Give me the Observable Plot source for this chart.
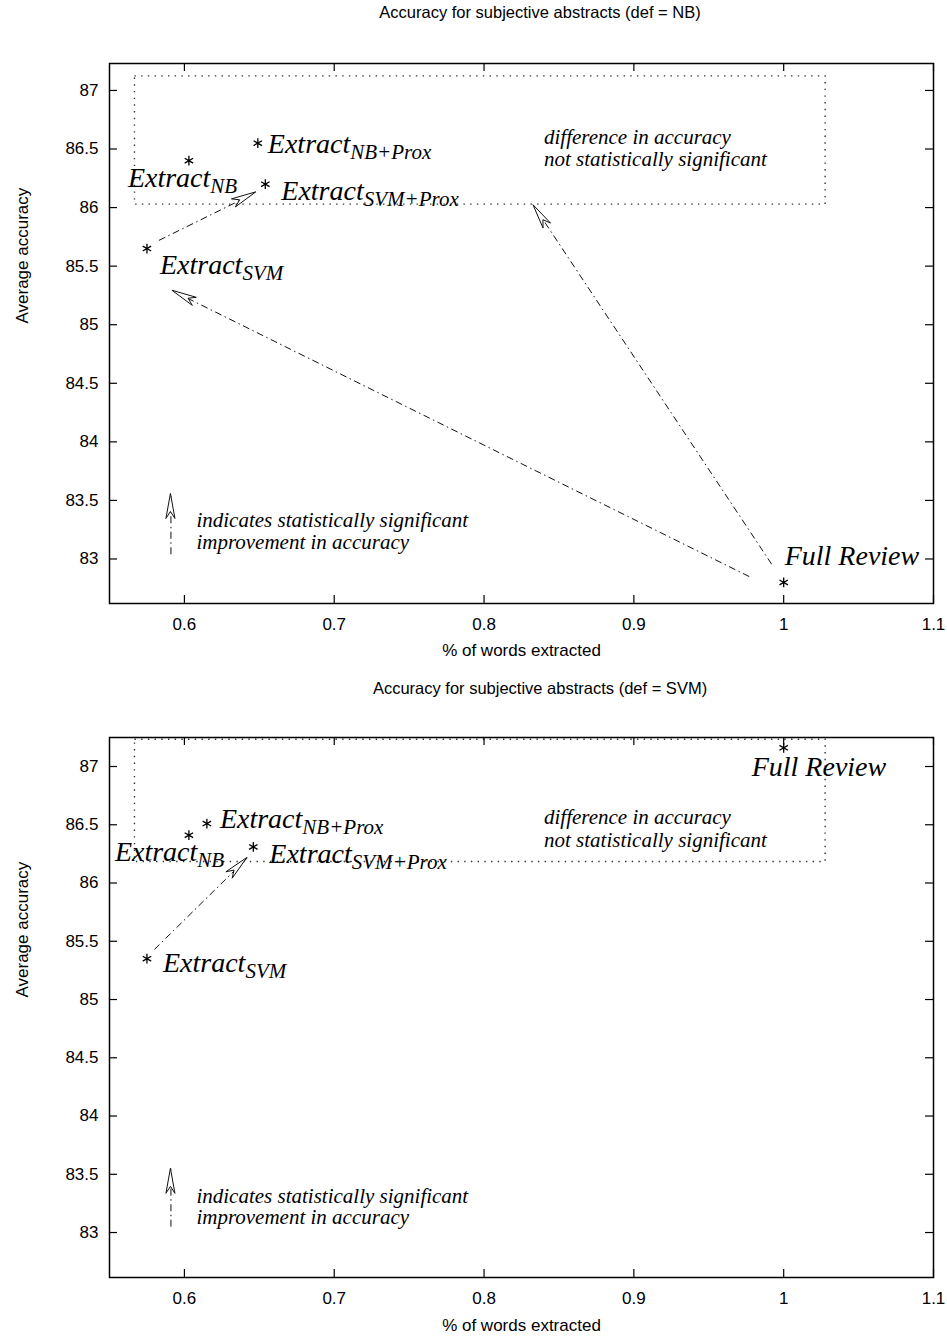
<!DOCTYPE html>
<html><head><meta charset="utf-8">
<script src="https://cdn.jsdelivr.net/npm/d3@7"></script>
<script src="https://cdn.jsdelivr.net/npm/@observablehq/plot@0.6"></script>
<style>
body{margin:0;background:#fff;width:947px;}
.panel{position:relative;width:947px;padding-top:24px;}
.title{position:absolute;left:540px;top:12px;transform:translate(-50%,-50%);font:16.5px "Liberation Sans",Arial,sans-serif;white-space:nowrap;color:#000;}
svg{display:block;}
</style></head><body>
<div id="p1" class="panel"><div class="title">Accuracy for subjective abstracts (def = NB)</div></div>
<div id="p2" class="panel"><div class="title">Accuracy for subjective abstracts (def = SVM)</div></div>
<script>
// ---- data ----
const methods = ["Extract_NB", "Extract_NB+Prox", "Extract_SVM+Prox", "Extract_SVM", "Full Review"];
const wordsNB = [0.603, 0.649, 0.654, 0.575, 1.0];
const accNB   = [86.40, 86.55, 86.20, 85.65, 82.80];
const wordsSVM = [0.603, 0.615, 0.646, 0.575, 1.0];
const accSVM   = [86.41, 86.51, 86.31, 85.35, 87.16];
const xTicks = [0.6, 0.7, 0.8, 0.9, 1.0, 1.1];
const yTicks = [83, 83.5, 84, 84.5, 85, 85.5, 86, 86.5, 87];
// significant-improvement arrows (from -> to)
const arrowsNB = [
  {x1: 0.583, y1: 85.72, x2: 0.648, y2: 86.13},
  {x1: 0.977, y1: 82.85, x2: 0.592, y2: 85.29},
  {x1: 0.992, y1: 82.955, x2: 0.833, y2: 86.02}
];
const arrowsSVM = [
  {x1: 0.580, y1: 85.43, x2: 0.642, y2: 86.215}
];
// "not significant" regions
const boxNB  = [{x1: 0.567, x2: 1.028, y1: 86.025, y2: 87.12}];
const boxSVM = [{x1: 0.567, x2: 1.028, y1: 86.18, y2: 87.23}];
// legend arrow + texts
const legendArrowNB  = [{x1: 0.591, y1: 83.04, x2: 0.591, y2: 83.555}];
const legendArrowSVM = [{x1: 0.591, y1: 83.05, x2: 0.591, y2: 83.547}];
const noteText = "difference in accuracy\nnot statistically significant";
const legendText = "indicates statistically significant\nimprovement in accuracy";
const noteNB  = [{x: 0.840, y: 86.351}];
const noteSVM = [{x: 0.840, y: 86.313}];
const legendNB  = [{x: 0.608, y: 83.088}];
const legendSVM = [{x: 0.608, y: 83.069}];

// ---- layout ----
const panels = [
  {el: "#p1", words: wordsNB, acc: accNB, arrows: arrowsNB, box: boxNB, legArrow: legendArrowNB, note: noteNB, legend: legendNB,
   yDomain: [82.62, 87.23], height: 652, marginTop: 39, marginBottom: 73, xLabelDy: 47,
   offsets: [[-61, 26], [10, 10], [16, 16], [13, 25], [1, -17]]},
  {el: "#p2", words: wordsSVM, acc: accSVM, arrows: arrowsSVM, box: boxSVM, legArrow: legendArrowSVM, note: noteSVM, legend: legendSVM,
   yDomain: [82.614, 87.249], height: 636, marginTop: 37, marginBottom: 59, xLabelDy: 48,
   offsets: [[-74, 26], [13, 4], [16, 16], [16, 13], [-32, 28]]}
];
const W = 947, ML = 109, MR = 14, TICK = 8;
const serif = "'Liberation Serif', 'Times New Roman', serif";
const sans = "'Liberation Sans', Arial, Helvetica, sans-serif";

function arrowHeads(arrows) {
  return (index, scales) => {
    const g = d3.create("svg:g");
    for (const a of arrows) {
      const x1 = scales.x(a.x1), y1 = scales.y(a.y1), x2 = scales.x(a.x2), y2 = scales.y(a.y2);
      const dx = x2 - x1, dy = y2 - y1, len = Math.hypot(dx, dy);
      const ux = dx / len, uy = dy / len, nx = -uy, ny = ux;
      const L = 25, Wd = 4.5, N = 0.72 * L;
      const pts = [
        [x2, y2],
        [x2 - L * ux + Wd * nx, y2 - L * uy + Wd * ny],
        [x2 - N * ux, y2 - N * uy],
        [x2 - L * ux - Wd * nx, y2 - L * uy - Wd * ny]
      ];
      g.append("path").attr("d", "M" + pts.map(p => p.join(",")).join("L") + "Z")
        .attr("fill", "white").attr("stroke", "#111").attr("stroke-width", 1).attr("stroke-linejoin", "miter");
    }
    return g.node();
  };
}

for (const p of panels) {
  const plotH = p.height - p.marginTop - p.marginBottom;
  const plotW = W - ML - MR;
  const idx = d3.range(methods.length);
  const allArrows = p.arrows.concat(p.legArrow);
  const labelMarks = idx.map(i => Plot.text([i], {
    x: j => p.words[j], y: j => p.acc[j], text: j => methods[j],
    dx: p.offsets[i][0], dy: p.offsets[i][1],
    textAnchor: "start", lineAnchor: "bottom",
    fontSize: 28, fontFamily: serif, fontStyle: "italic", fill: "black"
  }));
  const svg = Plot.plot({
    width: W, height: p.height,
    marginLeft: ML, marginRight: MR, marginTop: p.marginTop, marginBottom: p.marginBottom,
    x: {domain: [0.55, 1.1]},
    y: {domain: p.yDomain},
    style: {fontSize: "17px", fontFamily: sans, color: "black", background: "white", overflow: "visible"},
    marks: [
      Plot.rect(p.box, {x1: "x1", x2: "x2", y1: "y1", y2: "y2", fill: "none", stroke: "#333", strokeWidth: 1.4, strokeDasharray: "1.4,5.3"}),
      // inward ticks on all four sides
      Plot.tickX(xTicks, {x: d => d, insetTop: plotH - TICK, stroke: "black", strokeWidth: 1.2}),
      Plot.tickX(xTicks, {x: d => d, insetBottom: plotH - TICK, stroke: "black", strokeWidth: 1.2}),
      Plot.tickY(yTicks, {y: d => d, insetRight: plotW - TICK, stroke: "black", strokeWidth: 1.2}),
      Plot.tickY(yTicks, {y: d => d, insetLeft: plotW - TICK, stroke: "black", strokeWidth: 1.2}),
      Plot.axisX(xTicks, {tickSize: 0, tickPadding: 14, tickFormat: d3.format("~g"), label: null}),
      Plot.axisY(yTicks, {tickSize: 0, tickPadding: 11, tickFormat: d3.format("~g"), label: null}),
      Plot.text(["% of words extracted"], {text: d => d, frameAnchor: "bottom", dy: p.xLabelDy, lineAnchor: "middle", fontSize: 17}),
      Plot.text(["Average accuracy"], {text: d => d, frameAnchor: "left", rotate: -90, dx: -87, dy: -10, lineAnchor: "middle", fontSize: 17}),
      // arrows
      Plot.link(allArrows, {x1: "x1", y1: "y1", x2: "x2", y2: "y2", stroke: "#111", strokeWidth: 1, strokeDasharray: "7,3.5,1.5,3.5"}),
      arrowHeads(allArrows),
      // points
      Plot.dot(idx, {x: i => p.words[i], y: i => p.acc[i], symbol: "asterisk", r: 4.6, stroke: "black", strokeWidth: 1.3}),
      ...labelMarks,
      Plot.text(p.note, {x: "x", y: "y", text: () => noteText, textAnchor: "start", lineAnchor: "bottom", lineHeight: 1.07, fontSize: 21, fontFamily: serif, fontStyle: "italic", fill: "black"}),
      Plot.text(p.legend, {x: "x", y: "y", text: () => legendText, textAnchor: "start", lineAnchor: "bottom", lineHeight: 1.03, fontSize: 21, fontFamily: serif, fontStyle: "italic", fill: "black"}),
      Plot.frame({stroke: "black", strokeWidth: 1.5})
    ]
  });
  // subscripts (e.g. Extract_NB -> Extract with NB subscript)
  d3.select(svg).selectAll("text").each(function() {
    if (this.querySelector("tspan")) return;
    const t = this.textContent;
    if (!t.includes("_")) return;
    const [main, sub] = t.split("_");
    this.textContent = "";
    d3.select(this).append("tspan").text(main);
    d3.select(this).append("tspan").attr("font-size", 21).attr("dy", 6).text(sub);
  });
  document.querySelector(p.el).appendChild(svg);
}
</script>
</body></html>
